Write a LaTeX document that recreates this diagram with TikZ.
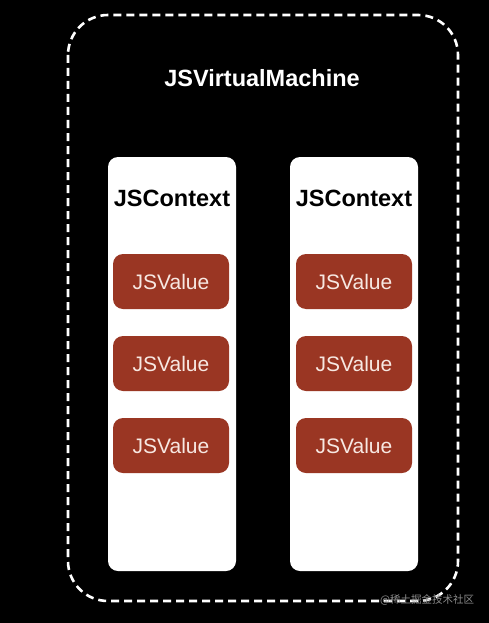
\documentclass[tikz,border=0pt]{standalone}
\usepackage{fontspec}
\setmainfont{Liberation Sans}
\newfontfamily\cjk{Noto Sans CJK SC}
\definecolor{valred}{HTML}{9A3623}
\definecolor{valtext}{HTML}{F7E8E2}
\begin{document}
\begin{tikzpicture}[x=1pt,y=-1pt,
  vmbox/.style={draw=white,line width=2.6pt,dash pattern=on 8pt off 5pt,rounded corners=40pt},
  ctxbox/.style={fill=white,rounded corners=10pt,minimum width=128pt,minimum height=414pt,inner sep=0pt},
  valbox/.style={fill=valred,rounded corners=10pt,minimum width=116pt,minimum height=55pt,inner sep=0pt,
    text=valtext,font=\fontsize{21}{24}\selectfont},
  ctxlabel/.style={text=black,font=\bfseries\fontsize{23.5}{27}\selectfont},
  vmlabel/.style={text=white,font=\bfseries\fontsize{23.5}{27}\selectfont}]
\fill[black] (0,0) rectangle (489,623);
\useasboundingbox (0,0) rectangle (489,623);
\draw[vmbox] (68,15) rectangle (458,601);
\node[vmlabel] (vm) at (262,78) {JSVirtualMachine};
\node[ctxbox] (c1) at (172,364) {};
\node[ctxbox] (c2) at (354,364) {};
\node[ctxlabel] (l1) at (172,198) {JSContext};
\node[ctxlabel] (l2) at (354,198) {JSContext};
\node[valbox] (v11) at (171,281.5) {JSValue};
\node[valbox] (v12) at (171,363.5) {JSValue};
\node[valbox] (v13) at (171,445.5) {JSValue};
\node[valbox] (v21) at (354,281.5) {JSValue};
\node[valbox] (v22) at (354,363.5) {JSValue};
\node[valbox] (v23) at (354,445.5) {JSValue};
\node[text=white!55!black,font=\cjk\fontsize{10.5}{12}\selectfont,anchor=west,inner sep=0pt] (wm) at (380,600) {@稀土掘金技术社区};
\end{tikzpicture}
\end{document}
